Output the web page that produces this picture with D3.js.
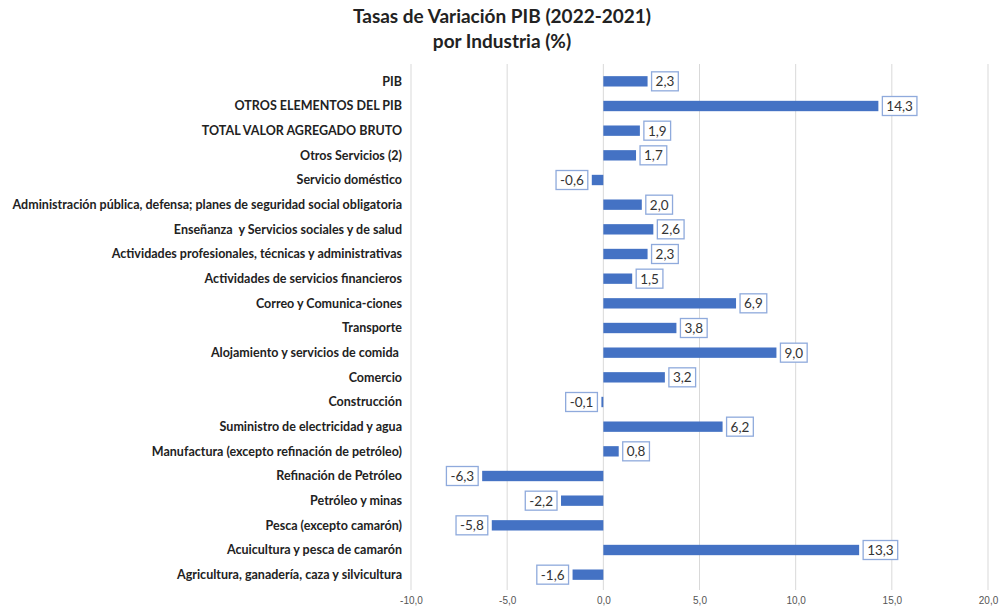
<!DOCTYPE html>
<html>
<head>
<meta charset="utf-8">
<script src="https://cdn.jsdelivr.net/npm/d3@7"></script>
<style>
	body { margin: 0; background: #fff; }
	svg { font-family: Lato, "Open Sans", sans-serif; }
	.title { font-size: 19px; font-weight: bold; fill: #222; }
	.cat { font-size: 12.5px; font-weight: bold; fill: #222; white-space: pre; }
	.tick-label { font-size: 10px; fill: #555; }
	.grid { stroke: #d9d9d9; stroke-width: 1; }
	.bar { fill: #4472c4; }
	.val-box { fill: #fff; stroke: #8faadc; stroke-width: 1.3; }
	.val { font-size: 13.5px; fill: #333; }
</style>
</head>
<body>
<svg id="chart" width="999" height="613"></svg>
<script>
const categories = [
	"PIB",
	"OTROS ELEMENTOS DEL PIB",
	"TOTAL VALOR AGREGADO BRUTO",
	"Otros Servicios (2)",
	"Servicio doméstico",
	"Administración pública, defensa; planes de seguridad social obligatoria",
	"Enseñanza  y Servicios sociales y de salud",
	"Actividades profesionales, técnicas y administrativas",
	"Actividades de servicios financieros",
	"Correo y Comunica-ciones",
	"Transporte",
	"Alojamiento y servicios de comida ",
	"Comercio",
	"Construcción",
	"Suministro de electricidad y agua",
	"Manufactura (excepto refinación de petróleo)",
	"Refinación de Petróleo",
	"Petróleo y minas",
	"Pesca (excepto camarón)",
	"Acuicultura y pesca de camarón",
	"Agricultura, ganadería, caza y silvicultura"
];
const values = [2.3, 14.3, 1.9, 1.7, -0.6, 2.0, 2.6, 2.3, 1.5, 6.9, 3.8, 9.0, 3.2, -0.1, 6.2, 0.8, -6.3, -2.2, -5.8, 13.3, -1.6];
const xTicks = [-10, -5, 0, 5, 10, 15, 20];
const titleLines = ["Tasas de Variación PIB (2022-2021)", "por Industria (%)"];

const svg = d3.select("#chart");
const fmt = v => v.toFixed(1).replace(".", ",");

const x = d3.scaleLinear().domain([-10, 20]).range([411, 988]);
const y = d3.scaleBand().domain(categories).range([69, 587]).paddingInner(0.58).paddingOuter(0.29);

// titulo
svg.append("g").selectAll("text")
	.data(titleLines)
	.join("text")
	.attr("class", "title")
	.attr("x", 502)
	.attr("y", (d, i) => 23 + i * 25)
	.attr("text-anchor", "middle")
	.text(d => d);

// rejilla vertical
svg.append("g").selectAll("line")
	.data(xTicks)
	.join("line")
	.attr("class", "grid")
	.attr("x1", d => x(d)).attr("x2", d => x(d))
	.attr("y1", 64).attr("y2", 590);

// eje x
const xAxis = d3.axisBottom(x).tickValues(xTicks).tickFormat(fmt).tickSize(0).tickPadding(0);
const gx = svg.append("g").attr("transform", "translate(0,597)").call(xAxis);
gx.select(".domain").remove();
gx.selectAll("text").attr("class", "tick-label").attr("fill", null).attr("font-family", null).attr("font-size", null).attr("dy", "0.71em");

// etiquetas de categoria
svg.append("g").selectAll("text")
	.data(categories)
	.join("text")
	.attr("class", "cat")
	.attr("x", 402)
	.attr("y", d => y(d) + y.bandwidth() / 2)
	.attr("dy", "0.35em")
	.attr("text-anchor", "end")
	.text(d => d);

const rows = categories.map((c, i) => ({ cat: c, value: values[i] }));

// barras
svg.append("g").selectAll("rect")
	.data(rows)
	.join("rect")
	.attr("class", "bar")
	.attr("x", d => x(Math.min(0, d.value)))
	.attr("y", d => y(d.cat))
	.attr("width", d => Math.max(1, Math.abs(x(d.value) - x(0))))
	.attr("height", y.bandwidth());

// etiquetas de valor
const boxH = 19;
const labels = svg.append("g").selectAll("g")
	.data(rows)
	.join("g");

labels.each(function (d) {
	const g = d3.select(this);
	const t = g.append("text").attr("class", "val").text(fmt(d.value));
	const w = t.node().getComputedTextLength() + 8;
	const cy = y(d.cat) + y.bandwidth() / 2;
	const bx = d.value >= 0 ? x(d.value) + 4 : x(d.value) - 4 - w;
	g.insert("rect", "text")
		.attr("class", "val-box")
		.attr("x", bx).attr("y", cy - boxH / 2)
		.attr("width", w).attr("height", boxH);
	t.attr("x", bx + w / 2).attr("y", cy).attr("dy", "0.36em").attr("text-anchor", "middle");
});
</script>
</body>
</html>
